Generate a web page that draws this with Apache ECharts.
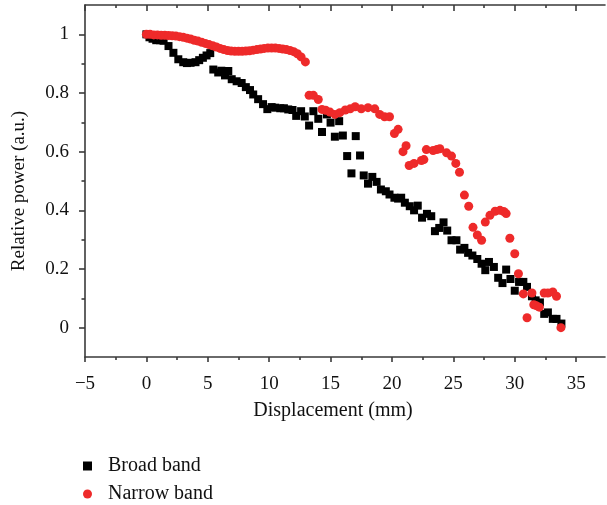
<!DOCTYPE html>
<html>
<head>
<meta charset="utf-8">
<script src="https://cdn.jsdelivr.net/npm/echarts@6/dist/echarts.min.js"></script>
<style>
  html, body { margin: 0; padding: 0; background: #fff; }
  #chart { width: 607px; height: 505px; }
</style>
</head>
<body>
<div id="chart"></div>
<script>
// 宽带 / 窄带 数据 (位移 mm, 相对功率)
var broadX = [0.0, 0.25, 0.5, 0.8, 1.1, 1.4, 1.8, 2.2, 2.6, 3.0, 3.3, 3.6, 4.0, 4.3, 4.6, 4.9, 5.2,
  5.45, 5.85, 6.1, 6.4, 6.67, 6.95, 7.35, 7.76, 8.1, 8.44, 8.7, 9.1, 9.5, 9.85, 10.2, 10.5, 10.9,
  11.2, 11.55, 11.9, 12.2, 12.6, 12.9, 13.25, 13.6, 14.0, 14.3, 14.7, 15.0, 15.35, 15.7, 16.0,
  16.35, 16.7, 17.05, 17.4, 17.7, 18.05, 18.4, 18.75, 19.1, 19.5, 19.8, 20.2, 20.5, 20.75, 21.05,
  21.45, 21.8, 22.1, 22.45, 22.85, 23.2, 23.5, 23.85, 24.2, 24.5, 24.85, 25.25, 25.55, 25.9, 26.2,
  26.55, 26.95, 27.3, 27.6, 27.9, 28.3, 28.65, 29.0, 29.3, 29.65, 30.0, 30.35, 30.7, 31.0, 31.4,
  31.7, 32.05, 32.4, 32.7, 33.1, 33.4, 33.8];
var broadY = [1.0, 0.99, 0.985, 0.98, 0.98, 0.978, 0.96, 0.937, 0.915, 0.905, 0.902, 0.903, 0.905,
  0.912, 0.92, 0.928, 0.936, 0.88, 0.87, 0.876, 0.86, 0.875, 0.847, 0.84, 0.834, 0.82, 0.81, 0.795,
  0.779, 0.762, 0.745, 0.752, 0.75, 0.748, 0.748, 0.744, 0.742, 0.722, 0.738, 0.72, 0.689, 0.738,
  0.712, 0.667, 0.727, 0.699, 0.651, 0.704, 0.655, 0.585, 0.526, 0.653, 0.587, 0.519, 0.491, 0.514,
  0.497, 0.471, 0.465, 0.454, 0.443, 0.44, 0.443, 0.426, 0.414, 0.4, 0.416, 0.375, 0.388, 0.38,
  0.329, 0.34, 0.359, 0.331, 0.298, 0.298, 0.266, 0.272, 0.255, 0.246, 0.234, 0.218, 0.196, 0.224,
  0.207, 0.17, 0.152, 0.198, 0.166, 0.126, 0.156, 0.156, 0.139, 0.107, 0.093, 0.086, 0.047, 0.052,
  0.03, 0.03, 0.014];

var narrowX = [0.0, 0.3, 0.6, 0.9, 1.2, 1.5, 1.8, 2.1, 2.4, 2.7, 3.0, 3.3, 3.6, 3.9, 4.2, 4.5, 4.8,
  5.1, 5.4, 5.7, 6.0, 6.3, 6.6, 6.9, 7.2, 7.5, 7.8, 8.1, 8.4, 8.7, 9.0, 9.3, 9.6, 9.9, 10.2, 10.5,
  10.8, 11.1, 11.4, 11.7, 12.0, 12.3, 12.6, 12.95, 13.25, 13.6, 14.0, 14.3, 14.6, 14.95, 15.35,
  15.75, 16.2, 16.6, 17.0, 17.5, 18.05, 18.6, 19.0, 19.4, 19.8, 20.2, 20.5, 20.9, 21.15, 21.4, 21.8,
  22.4, 22.6, 22.8, 23.35, 23.65, 23.9, 24.45, 24.85, 25.2, 25.5, 25.9, 26.25, 26.6, 26.95, 27.3,
  27.6, 27.98, 28.4, 28.8, 29.1, 29.3, 29.6, 30.0, 30.3, 30.7, 31.0, 31.4, 31.55, 31.75, 32.0,
  32.4, 32.7, 33.1, 33.4, 33.76];
var narrowY = [1.0, 1.0, 0.998, 0.998, 0.997, 0.997, 0.996, 0.995, 0.994, 0.992, 0.99, 0.987, 0.984,
  0.98, 0.977, 0.973, 0.969, 0.965, 0.961, 0.957, 0.952, 0.948, 0.945, 0.943, 0.942, 0.942, 0.942,
  0.943, 0.944, 0.946, 0.948, 0.95, 0.952, 0.953, 0.953, 0.953, 0.952, 0.95, 0.948, 0.945, 0.941,
  0.934, 0.923, 0.906, 0.792, 0.792, 0.778, 0.744, 0.741, 0.735, 0.727, 0.733, 0.742, 0.746, 0.753,
  0.746, 0.75, 0.746, 0.727, 0.719, 0.719, 0.662, 0.676, 0.6, 0.62, 0.553, 0.56, 0.57, 0.573, 0.607,
  0.604, 0.607, 0.61, 0.596, 0.585, 0.56, 0.53, 0.452, 0.414, 0.342, 0.316, 0.298, 0.36, 0.383,
  0.397, 0.4, 0.396, 0.389, 0.305, 0.252, 0.184, 0.115, 0.034, 0.118, 0.078, 0.075, 0.07, 0.118,
  0.118, 0.122, 0.107, 0.0];

// 刻度
var xMajor = [-5, 0, 5, 10, 15, 20, 25, 30, 35];
var xMinor = [-2.5, 2.5, 7.5, 12.5, 17.5, 22.5, 27.5, 32.5];
var yMajor = [0, 0.2, 0.4, 0.6, 0.8, 1];
var yMinor = [0.1, 0.3, 0.5, 0.7, 0.9];

function pairs(xs, ys) {
  var res = [];
  for (var i = 0; i < xs.length; i++) res.push([xs[i], ys[i]]);
  return res;
}

var font = 'Liberation Serif';
var lineStyle = { color: '#3a3a3a', width: 1.6 };
var xMin = -5, xMax = 37.35, yMin = -0.1, yMax = 1.1;

// 一个只画刻度的坐标轴
function tickAxis(pos, values, len, inside, showLine) {
  return {
    type: 'value', position: pos, min: pos == 'top' || pos == 'bottom' ? xMin : yMin,
    max: pos == 'top' || pos == 'bottom' ? xMax : yMax,
    axisLine: { show: showLine, onZero: false, lineStyle: lineStyle },
    axisTick: { show: true, inside: inside, length: len, customValues: values, lineStyle: lineStyle },
    axisLabel: { show: false },
    splitLine: { show: false }
  };
}

var dom = document.getElementById('chart');
var myChart = echarts.init(dom);
var option = {
  animation: false,
  textStyle: { fontFamily: font },
  grid: { left: 85, top: 5, right: 2, bottom: 148 },
  legend: {
    orient: 'vertical',
    left: 83,
    top: 456,
    itemWidth: 9,
    itemHeight: 9,
    itemGap: 8,
    padding: 0,
    textStyle: { fontFamily: font, fontSize: 20, color: '#111', padding: [0, 0, 0, 11] },
    data: ['Broad band', 'Narrow band']
  },
  xAxis: [
    {
      type: 'value', position: 'bottom', min: xMin, max: xMax,
      name: 'Displacement (mm)', nameLocation: 'middle', nameGap: 44,
      nameTextStyle: { fontFamily: font, fontSize: 20, color: '#111', padding: [0, 24, 0, 0] },
      axisLine: { onZero: false, lineStyle: lineStyle },
      axisTick: { inside: false, length: 5, customValues: xMajor, lineStyle: lineStyle },
      axisLabel: {
        customValues: xMajor, margin: 18, fontFamily: font, fontSize: 19, color: '#111',
        formatter: function (v) { return v < 0 ? '\u2212' + Math.abs(v) : String(v); }
      },
      splitLine: { show: false }
    },
    tickAxis('bottom', xMinor, 3, false, false),
    tickAxis('top', xMajor, 6, true, true),
    tickAxis('top', xMinor, 3, true, false)
  ],
  yAxis: [
    {
      type: 'value', position: 'left', min: yMin, max: yMax,
      name: 'Relative power (a.u.)', nameLocation: 'middle', nameGap: 56,
      nameTextStyle: { fontFamily: font, fontSize: 19, color: '#111', padding: [0, 20, 0, 0] },
      axisLine: { onZero: false, lineStyle: lineStyle },
      axisTick: { inside: false, length: 6, customValues: yMajor, lineStyle: lineStyle },
      axisLabel: {
        customValues: yMajor, margin: 16, fontFamily: font, fontSize: 19, color: '#111',
        formatter: function (v) { return String(v); }
      },
      splitLine: { show: false }
    },
    tickAxis('left', yMinor, 3.5, false, false)
  ],
  series: [
    {
      name: 'Broad band',
      type: 'scatter',
      symbol: 'rect',
      symbolSize: 8,
      itemStyle: { color: '#000', opacity: 1 },
      data: pairs(broadX, broadY)
    },
    {
      name: 'Narrow band',
      type: 'scatter',
      symbol: 'circle',
      symbolSize: 9,
      itemStyle: { color: '#ee2a2a', opacity: 1 },
      data: pairs(narrowX, narrowY)
    }
  ]
};
myChart.setOption(option);
</script>
</body>
</html>
